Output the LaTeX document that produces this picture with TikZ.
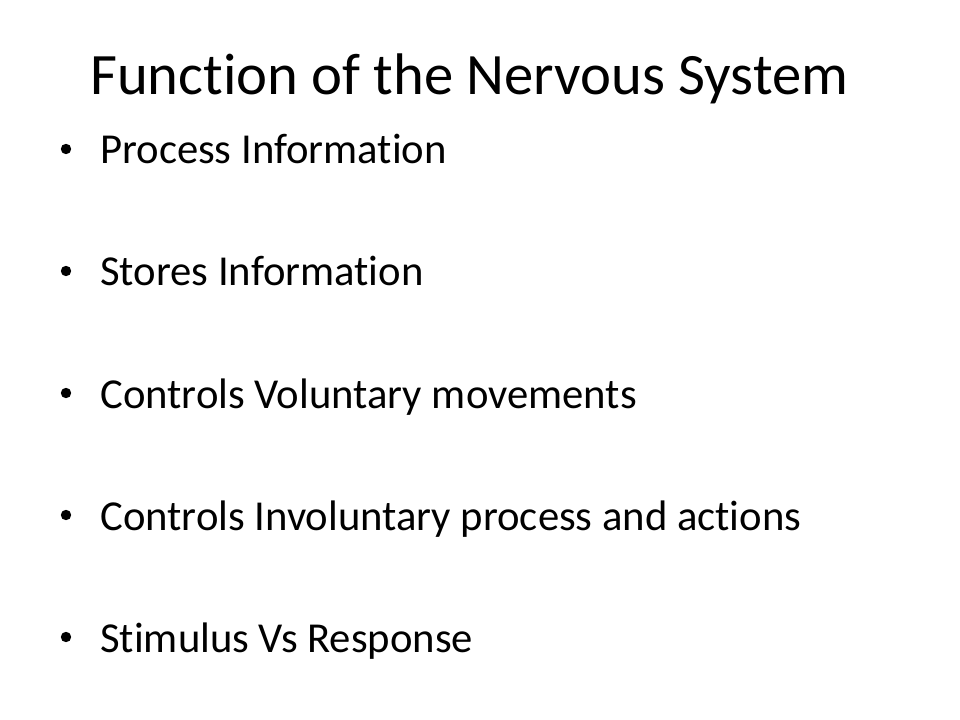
\documentclass[tikz,border=0pt]{standalone}
\usepackage{fontspec}
\setmainfont{Carlito}[Ligatures={NoCommon,NoRare,NoContextual}]
\usetikzlibrary{positioning}

\begin{document}
\begin{tikzpicture}[x=0.75pt,y=-0.75pt,
    slidetitle/.style={anchor=base west,inner sep=0pt,font=\fontsize{44}{52}\selectfont},
    itemtext/.style={anchor=base west,inner sep=0pt,font=\fontsize{32}{38}\selectfont}]
  \useasboundingbox (0,0) rectangle (960,720);
  \fill[white] (0,0) rectangle (960,720);

  \node[slidetitle] (title) at (90,95) {Function of the Nervous System};

  \foreach \txt [count=\i] in {Process Information,Stores Information,
      Controls Voluntary movements,Controls Involuntary process and actions,
      Stimulus Vs Response}{
    \node[itemtext] (item\i) at (100,{164+122*(\i-1)}) {\txt};
    \fill (66,{149+122*(\i-1)}) circle [radius=5.2];
  }
\end{tikzpicture}
\end{document}
